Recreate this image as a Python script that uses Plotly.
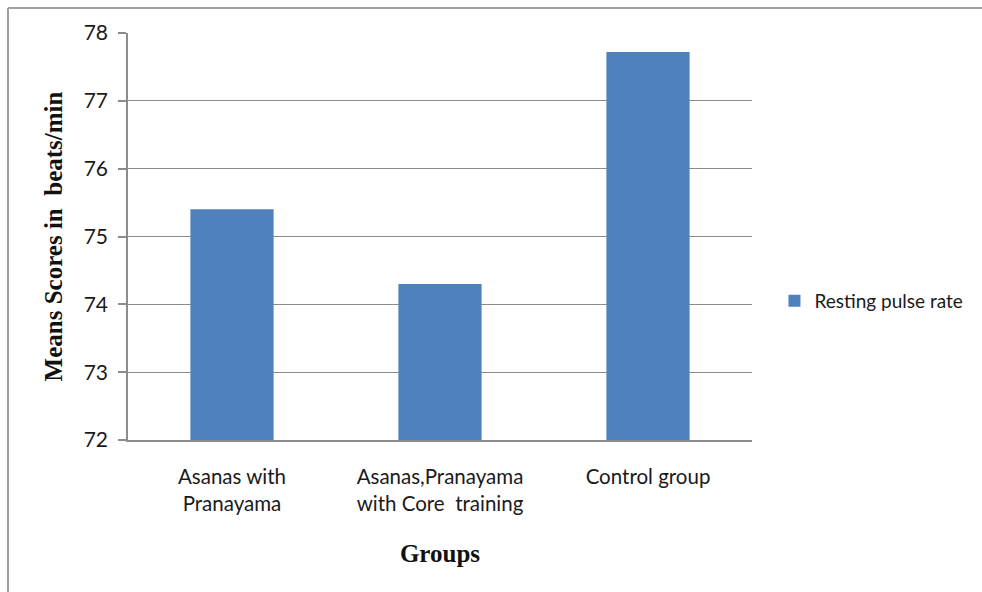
import plotly.graph_objects as go

# Group labels and mean resting pulse rate (beats/min)
groups = ["Asanas with<br>Pranayama", "Asanas,Pranayama<br>with Core  training", "Control group"]
pulse_rate = [75.4, 74.3, 77.72]
series_name = "Resting pulse rate"
y_ticks = [72, 73, 74, 75, 76, 77, 78]

W, H = 982, 592
L, R, T, B = 128, 230, 33, 152

fig = go.Figure()
fig.add_trace(go.Bar(
    x=groups, y=pulse_rate, name=series_name,
    marker=dict(color="#4f81bd", line=dict(width=0)),
    width=0.4, showlegend=True,
))

fig.update_layout(
    width=W, height=H, autosize=False,
    margin=dict(l=L, r=R, t=T, b=B, pad=0),
    paper_bgcolor="white", plot_bgcolor="white",
    font=dict(family="Lato, Open Sans, sans-serif", size=20, color="#1a1a1a"),
    showlegend=True,
    legend=dict(
        x=1.036, y=0.342, xanchor="left", yanchor="middle",
        font=dict(family="Lato, sans-serif", size=19, color="#1a1a1a"),
        bgcolor="rgba(0,0,0,0)", itemwidth=30, borderwidth=0,
    ),
    xaxis=dict(
        showline=True, linecolor="#8c8c8c", linewidth=1.5,
        ticks="", showgrid=False, ticklabelstandoff=18,
        tickfont=dict(family="Lato, sans-serif", size=20.5, color="#1a1a1a"),
        title=dict(text="<b>Groups</b>", standoff=30,
                   font=dict(family="Liberation Serif, Times New Roman, serif", size=25, color="#111")),
    ),
    yaxis=dict(
        range=[72, 78], tickvals=y_ticks,
        showline=True, linecolor="#8c8c8c", linewidth=1.5,
        ticks="outside", ticklen=8, tickcolor="#8c8c8c", tickwidth=1.5,
        showgrid=True, gridcolor="#8c8c8c", gridwidth=1.2,
        zeroline=False, ticklabelstandoff=6,
        tickfont=dict(family="Lato, sans-serif", size=21, color="#1a1a1a"),
        title=dict(text="<b>Means Scores in  beats/min</b>", standoff=14,
                   font=dict(family="Liberation Serif, Times New Roman, serif", size=25, color="#111")),
    ),
)

# Outer chart frame (left and top edges)
fig.add_shape(type="line", xref="paper", yref="paper",
              x0=(8 - L) / (W - L - R), x1=(8 - L) / (W - L - R),
              y0=(H - B - H) / (H - T - B), y1=(H - B - 8) / (H - T - B),
              line=dict(color="#a0a0a0", width=2))
fig.add_shape(type="line", xref="paper", yref="paper",
              x0=(8 - L) / (W - L - R), x1=(W - L) / (W - L - R),
              y0=(H - B - 8) / (H - T - B), y1=(H - B - 8) / (H - T - B),
              line=dict(color="#a0a0a0", width=2))

fig.write_html("out.html")
